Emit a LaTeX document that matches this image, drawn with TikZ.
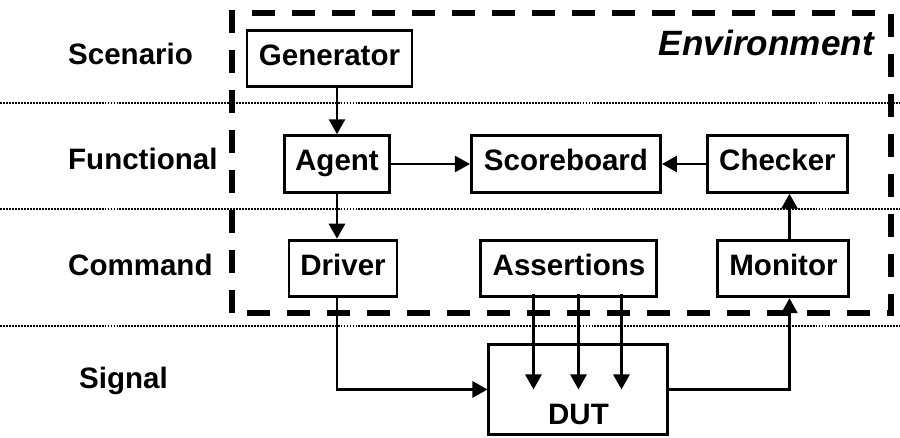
\documentclass[tikz,border=0pt]{standalone}
\usepackage{fontspec}
\setmainfont{Liberation Sans}
\usepackage{xcolor}
\usepackage{tikz}
\usetikzlibrary{arrows.meta}
\tikzset{arrow/.style = {> = {Triangle[length = 3mm, width = 3.2mm]}, line width = 1.6pt}}
\usetikzlibrary{positioning}
\usetikzlibrary{calc}

\begin{document}
\begin{tikzpicture}[block/.style = {rectangle, draw, line width = 1.7pt, minimum height = 1.13cm, text height = 0.95em, text depth = 0.2em}, lane/.style = {anchor = west, text height = 0.95em, text depth = 0.2em}, font = \fontsize{16.8pt}{20pt}\selectfont\bfseries]
	\useasboundingbox (0, 0) rectangle (18, 8.74);

	%% Layers
	\foreach \y in {6.68, 4.56, 2.22}
		\draw[line width = 1.1pt, dash pattern = on 1.1pt off 0.6pt] (0, \y) -- (18, \y);

	\node[lane] (scenario) at (1.24, 7.58) {Scenario};
	\node[lane] (functional) at (1.24, 5.48) {Functional};
	\node[lane] (command) at (1.24, 3.36) {Command};
	\node[lane] (signal) at (1.46, 1.1) {Signal};

	%% Environment
	\draw[line width = 0.12cm, dash pattern = on 0.46cm off 0.34cm] (4.64, 2.48) rectangle (17.82, 8.48);
	\node[anchor = east, font = \fontsize{20pt}{24pt}\selectfont\bfseries\itshape] (envlabel) at (17.6, 7.88) {Environment};

	%% Functional
	\node[block, minimum width = 2.1cm] (agent) at (6.74, 5.46) {Agent};
	\node[block, minimum width = 3.78cm, right = 1.58cm of agent] (score) {Scoreboard};
	\node[block, minimum width = 2.8cm, right = 0.88cm of score] (chk) {Checker};

	%% Scenario
	\node[block, minimum width = 3.3cm, above = 0.92cm of agent, xshift = -1.5mm] (gen) {Generator};

	%% Command
	\node[block, minimum width = 2.16cm, below = 0.9cm of agent, xshift = 1.2mm] (drv) {Driver};
	\node[block, minimum width = 3.52cm, right = 1.62cm of drv] (asrt) {Assertions};
	\node[block, minimum width = 2.62cm, right = 1.16cm of asrt] (mon) {Monitor};

	%% Signal
	\node[block, minimum width = 3.58cm, minimum height = 1.79cm, inner ysep = 0pt, text height = 1.465cm, below = 0.9cm of asrt, xshift = 1.9mm] (dut) {DUT};

	%% Arrows...
	\draw[->, arrow] (gen.south -| agent.north) -- (agent.north);
	\draw[->, arrow] (agent.south) -- (agent.south |- drv.north);
	\draw[->, arrow] (agent.east) -- (score.west);
	\draw[->, arrow] (chk.west) -- (score.east);

	\coordinate (monup) at ($(mon.north) + (0.12, 0)$);
	\draw[->, arrow] (monup) -- (monup |- chk.south);

	% ... to and from the DUT
	\draw[->, arrow] (drv.south -| agent.south) |- (dut.west);
	\draw[->, arrow] (dut.east) -| (monup |- mon.south);
	\foreach \dx in {-0.9, 0, 0.86}
		\draw[->, arrow] ($(dut.center |- asrt.south) + (\dx, 0.08)$) -- ($(dut.center) + (\dx, 0)$);
\end{tikzpicture}
\end{document}
